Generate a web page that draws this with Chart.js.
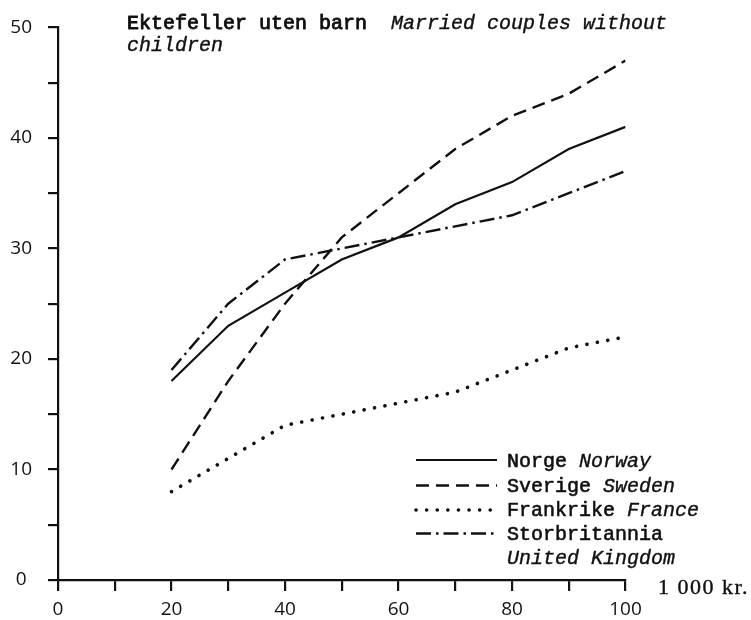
<!DOCTYPE html>
<html>
<head>
<meta charset="utf-8">
<script src="https://cdn.jsdelivr.net/npm/chart.js@4.4.1/dist/chart.umd.min.js"></script>
<style>
  html, body { margin: 0; padding: 0; background: #fff; }
  #wrap { width: 751px; height: 620px; position: relative; }
</style>
</head>
<body>
<div id="wrap"><canvas id="c" width="751" height="620"></canvas></div>
<script>
// ---- data ----
const incomes = [20, 30, 40, 50, 60, 70, 80, 90, 100];       // 1 000 kr.
const norway  = [18, 23, 26, 29, 31, 34, 36, 39, 41];
const sweden  = [10, 18, 25, 31, 35, 39, 42, 44, 47];
const france  = [8, 11, 14, 15, 16, 17, 19, 21, 22];
const uk      = [19, 25, 29, 30, 31, 32, 33, 35, 37];

const titleNo = "Ektefeller uten barn";
const titleEn1 = "Married couples without";
const titleEn2 = "children";
const unitLabel = "1 000 kr.";
const legendNo = ["Norge", "Sverige", "Frankrike", "Storbritannia"];
const legendEn = ["Norway", "Sweden", "France", "United Kingdom"];

const INK = '#111';
const styles = [
  { dash: [], width: 2.2, cap: 'butt' },
  { dash: [13, 7], width: 2.4, cap: 'butt' },
  { dash: [0.1, 10.5], width: 3.6, cap: 'round' },
  { dash: [15, 5, 2.5, 5], width: 2.4, cap: 'butt' }
];

function pts(arr) { return incomes.map((x, i) => ({ x: x, y: arr[i] })); }

const seriesList = [norway, sweden, france, uk];
const datasets = seriesList.map((s, i) => ({
  label: legendEn[i],
  data: pts(s),
  borderColor: INK,
  borderWidth: styles[i].width,
  borderDash: styles[i].dash,
  borderCapStyle: styles[i].cap,
  pointRadius: 0,
  tension: 0,
  fill: false
}));

const MONO = '"Liberation Mono", "DejaVu Sans Mono", monospace';

function heavyText(ctx, txt, x, y, sw) {
  ctx.fillText(txt, x, y);
  ctx.lineWidth = sw;
  ctx.setLineDash([]);
  ctx.strokeStyle = INK;
  ctx.strokeText(txt, x, y);
}

const decor = {
  id: 'decor',
  beforeDraw(chart) {
    const ctx = chart.ctx;
    ctx.save();
    ctx.fillStyle = '#fff';
    ctx.fillRect(0, 0, chart.width, chart.height);
    ctx.restore();
  },
  afterDraw(chart) {
    const ctx = chart.ctx;
    ctx.save();
    ctx.fillStyle = INK;
    ctx.textBaseline = 'alphabetic';
    ctx.textAlign = 'left';
    ctx.lineJoin = 'round';
    // title
    ctx.font = '20px ' + MONO;
    heavyText(ctx, titleNo, 127, 29, 0.9);
    const w1 = ctx.measureText(titleNo + '  ').width;
    ctx.font = 'italic 20px ' + MONO;
    heavyText(ctx, titleEn1, 127 + w1, 29, 0.4);
    heavyText(ctx, titleEn2, 127, 51, 0.4);

    // legend
    const lineY = [460, 485.5, 510, 533.5];
    const textY = [466.5, 491.5, 515.5, 540];
    const x0 = 416, x1 = 497, tx = 507;
    for (let i = 0; i < 4; i++) {
      ctx.beginPath();
      ctx.strokeStyle = INK;
      ctx.lineWidth = styles[i].width;
      ctx.setLineDash(styles[i].dash);
      ctx.lineCap = styles[i].cap;
      ctx.moveTo(x0, lineY[i]);
      ctx.lineTo(x1, lineY[i]);
      ctx.stroke();
      ctx.setLineDash([]);
      ctx.lineCap = 'butt';
      ctx.font = '20px ' + MONO;
      heavyText(ctx, legendNo[i], tx, textY[i], 0.6);
      if (i < 3) {
        const w = ctx.measureText(legendNo[i] + ' ').width;
        ctx.font = 'italic 20px ' + MONO;
        heavyText(ctx, legendEn[i], tx + w, textY[i], 0.4);
      } else {
        ctx.font = 'italic 20px ' + MONO;
        heavyText(ctx, legendEn[i], tx, 563.5, 0.4);
      }
    }

    // unit label
    ctx.font = '22px "Liberation Serif", "DejaVu Serif", serif';
    ctx.letterSpacing = '1.5px';
    heavyText(ctx, unitLabel, 658, 594, 0.4);
    ctx.restore();
  }
};

const tickFont = { family: '"Open Sans", "Liberation Sans", sans-serif', size: 19, weight: '500' };

new Chart(document.getElementById('c'), {
  type: 'line',
  data: { datasets: datasets },
  options: {
    responsive: false,
    devicePixelRatio: 1,
    animation: false,
    layout: { padding: { left: 0, right: 125.5, top: 14, bottom: 0 } },
    plugins: { legend: { display: false }, title: { display: false }, tooltip: { enabled: false } },
    scales: {
      x: {
        type: 'linear', min: 0, max: 100,
        afterFit(s) { s.height = 40; },
        border: { display: true, color: INK, width: 2.2 },
        grid: { display: true, drawOnChartArea: false, drawTicks: true, tickLength: 11, color: INK, lineWidth: 2.2 },
        ticks: {
          stepSize: 10, autoSkip: false, maxRotation: 0, padding: 7,
          color: '#111', font: tickFont,
          callback: v => (v % 20 === 0 ? String(v) : '')
        }
      },
      y: {
        min: 0, max: 50,
        afterFit(s) { s.width = 58; },
        border: { display: true, color: INK, width: 2.2 },
        grid: { display: true, drawOnChartArea: false, drawTicks: true, tickLength: 10, color: INK, lineWidth: 2.2 },
        ticks: {
          stepSize: 5, autoSkip: false, padding: 16, crossAlign: 'center',
          color: '#111', font: tickFont,
          callback: v => (v % 10 === 0 ? String(v) : '')
        }
      }
    }
  },
  plugins: [decor]
});
</script>
</body>
</html>
